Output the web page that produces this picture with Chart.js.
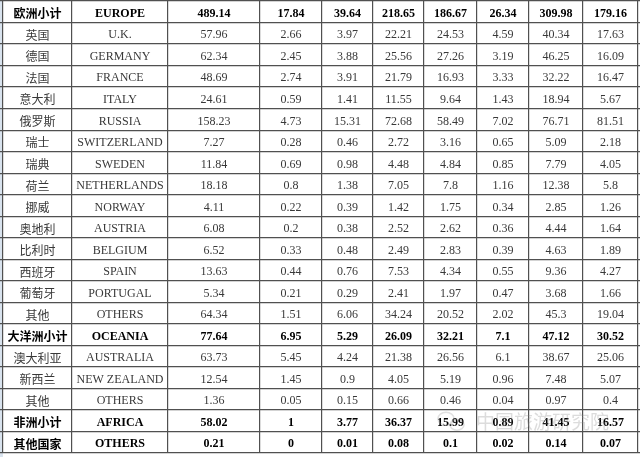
<!DOCTYPE html>
<html>
<head>
<meta charset="utf-8">
<script src="https://cdn.jsdelivr.net/npm/chart.js@4.4.0/dist/chart.umd.min.js"></script>
<style>
  html, body { margin: 0; padding: 0; background: #ffffff; }
  #strip { position: absolute; left: 0; top: 0; width: 3px; height: 457px; background: #d9e3ee; }
  #wrap { position: absolute; left: 0; top: 0; width: 640px; height: 457px; }
</style>
</head>
<body>
<div id="strip"></div>
<div id="wrap"><canvas id="tbl"></canvas></div>
<script>
// rows of the table
const regionZh = ['欧洲小计', '英国', '德国', '法国', '意大利', '俄罗斯', '瑞士', '瑞典', '荷兰', '挪威',
  '奥地利', '比利时', '西班牙', '葡萄牙', '其他', '大洋洲小计', '澳大利亚', '新西兰', '其他', '非洲小计', '其他国家'];
const regionEn = ['EUROPE', 'U.K.', 'GERMANY', 'FRANCE', 'ITALY', 'RUSSIA', 'SWITZERLAND', 'SWEDEN', 'NETHERLANDS', 'NORWAY',
  'AUSTRIA', 'BELGIUM', 'SPAIN', 'PORTUGAL', 'OTHERS', 'OCEANIA', 'AUSTRALIA', 'NEW ZEALAND', 'OTHERS', 'AFRICA', 'OTHERS'];
const subtotal = [true, false, false, false, false, false, false, false, false, false,
  false, false, false, false, false, true, false, false, false, true, true];

// value columns
const total = [489.14, 57.96, 62.34, 48.69, 24.61, 158.23, 7.27, 11.84, 18.18, 4.11, 6.08, 6.52, 13.63, 5.34, 64.34, 77.64, 63.73, 12.54, 1.36, 58.02, 0.21];
const seg1  = [17.84, 2.66, 2.45, 2.74, 0.59, 4.73, 0.28, 0.69, 0.8, 0.22, 0.2, 0.33, 0.44, 0.21, 1.51, 6.95, 5.45, 1.45, 0.05, 1, 0];
const seg2  = [39.64, 3.97, 3.88, 3.91, 1.41, 15.31, 0.46, 0.98, 1.38, 0.39, 0.38, 0.48, 0.76, 0.29, 6.06, 5.29, 4.24, 0.9, 0.15, 3.77, 0.01];
const seg3  = [218.65, 22.21, 25.56, 21.79, 11.55, 72.68, 2.72, 4.48, 7.05, 1.42, 2.52, 2.49, 7.53, 2.41, 34.24, 26.09, 21.38, 4.05, 0.66, 36.37, 0.08];
const seg4  = [186.67, 24.53, 27.26, 16.93, 9.64, 58.49, 3.16, 4.84, 7.8, 1.75, 2.62, 2.83, 4.34, 1.97, 20.52, 32.21, 26.56, 5.19, 0.46, 15.99, 0.1];
const seg5  = [26.34, 4.59, 3.19, 3.33, 1.43, 7.02, 0.65, 0.85, 1.16, 0.34, 0.36, 0.39, 0.55, 0.47, 2.02, 7.1, 6.1, 0.96, 0.04, 0.89, 0.02];
const grpA  = [309.98, 40.34, 46.25, 32.22, 18.94, 76.71, 5.09, 7.79, 12.38, 2.85, 4.44, 4.63, 9.36, 3.68, 45.3, 47.12, 38.67, 7.48, 0.97, 41.45, 0.14];
const grpB  = [179.16, 17.63, 16.09, 16.47, 5.67, 81.51, 2.18, 4.05, 5.8, 1.26, 1.64, 1.89, 4.27, 1.66, 19.04, 30.52, 25.06, 5.07, 0.4, 16.57, 0.07];

const watermark = '中国旅游研究院';

// layout: column borders on the x scale
const colEdges = [3, 72, 168, 260, 322, 373, 424, 477, 529, 583, 638];
const columns = [regionZh, regionEn, total, seg1, seg2, seg3, seg4, seg5, grpA, grpB];
const rowCount = regionZh.length;

const datasets = columns.map((col, c) => ({
  label: 'c' + c,
  texts: col.map(v => String(v)),
  data: col.map((v, r) => ({ x: (colEdges[c] + colEdges[c + 1]) / 2, y: r })),
  pointRadius: 0,
  pointHoverRadius: 0,
  showLine: false
}));

const cellText = {
  id: 'cellText',
  afterDatasetsDraw(chart) {
    const ctx = chart.ctx;
    ctx.save();
    ctx.textAlign = 'center';
    ctx.textBaseline = 'middle';
    chart.data.datasets.forEach((ds, di) => {
      const meta = chart.getDatasetMeta(di);
      meta.data.forEach((pt, i) => {
        const bold = subtotal[i] ? 'bold ' : '';
        ctx.font = di === 0
          ? bold + '12px "Noto Sans CJK SC", sans-serif'
          : bold + '12px "Liberation Serif", "Times New Roman", serif';
        ctx.fillStyle = subtotal[i] ? '#000000' : '#383838';
        ctx.fillText(ds.texts[i], pt.x, pt.y + 2);
      });
    });
    ctx.restore();
  },
  afterDraw(chart) {
    // faint watermark over the last rows
    const ctx = chart.ctx;
    const x = chart.scales.x;
    const y = chart.scales.y;
    const yy = y.getPixelForValue(19);
    ctx.save();
    ctx.globalAlpha = 0.3;
    ctx.strokeStyle = '#9a9a9a';
    ctx.lineWidth = 1.5;
    ctx.beginPath();
    ctx.ellipse(x.getPixelForValue(446), yy - 2, 8, 6.5, 0, 0, Math.PI * 2);
    ctx.stroke();
    ctx.beginPath();
    ctx.ellipse(x.getPixelForValue(457), yy + 4, 7, 5.5, 0, 0, Math.PI * 2);
    ctx.stroke();
    ctx.fillStyle = '#8c8c8c';
    ctx.font = '19px "Noto Sans CJK SC", sans-serif';
    ctx.textAlign = 'left';
    ctx.textBaseline = 'middle';
    ctx.fillText(watermark, x.getPixelForValue(476), yy + 1);
    ctx.restore();
  }
};

new Chart(document.getElementById('tbl'), {
  type: 'scatter',
  data: { datasets: datasets },
  options: {
    responsive: true,
    maintainAspectRatio: false,
    animation: false,
    events: [],
    layout: { padding: { top: 1, bottom: 4, left: 0, right: 0 }, autoPadding: false },
    scales: {
      x: {
        type: 'linear',
        min: 0,
        max: 640,
        afterBuildTicks: (scale) => { scale.ticks = colEdges.map(v => ({ value: v })); },
        ticks: { display: false },
        grid: { color: '#505050', lineWidth: 1.2, drawTicks: false },
        border: { display: false }
      },
      y: {
        type: 'linear',
        reverse: true,
        min: -0.5,
        max: rowCount - 0.5,
        afterBuildTicks: (scale) => {
          scale.ticks = Array.from({ length: rowCount + 1 }, (_, k) => ({ value: k - 0.5 }));
        },
        ticks: { display: false },
        grid: { color: '#505050', lineWidth: 1.2, drawTicks: false },
        border: { display: false }
      }
    },
    plugins: {
      legend: { display: false },
      tooltip: { enabled: false }
    }
  },
  plugins: [cellText]
});
</script>
</body>
</html>
